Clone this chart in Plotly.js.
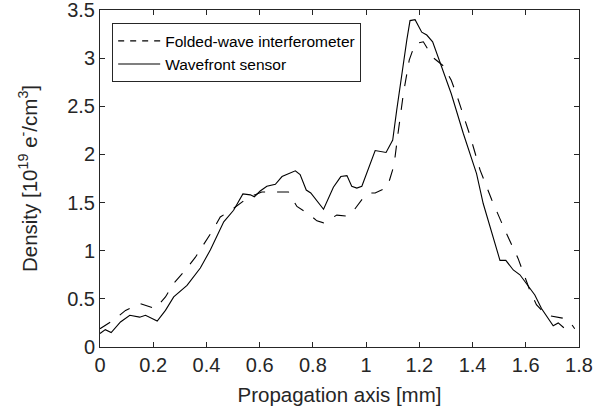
<!DOCTYPE html>
<html>
<head>
<meta charset="utf-8">
<script src="https://cdn.plot.ly/plotly-3.0.1.min.js"></script>
<style>html,body{margin:0;padding:0;background:#fff;}#chart{width:596px;height:412px;}</style>
</head>
<body>
<div id="chart"></div>
<script>
// Wavefront sensor (solid)
const wfsX = [0, 0.02, 0.042, 0.077, 0.112, 0.149, 0.171, 0.215, 0.246, 0.277, 0.327, 0.377, 0.415, 0.446, 0.465, 0.502, 0.537, 0.565, 0.58, 0.602, 0.627, 0.659, 0.684, 0.734, 0.752, 0.775, 0.792, 0.84, 0.877, 0.905, 0.928, 0.946, 0.965, 0.984, 1.009, 1.034, 1.075, 1.10, 1.115, 1.134, 1.153, 1.165, 1.184, 1.209, 1.228, 1.25, 1.29, 1.32, 1.365, 1.39, 1.415, 1.44, 1.472, 1.503, 1.525, 1.553, 1.578, 1.609, 1.634, 1.659, 1.68, 1.703, 1.722, 1.743];
const wfsY = [0.14, 0.18, 0.15, 0.26, 0.33, 0.31, 0.33, 0.27, 0.38, 0.52, 0.64, 0.82, 1.01, 1.20, 1.30, 1.42, 1.59, 1.58, 1.56, 1.62, 1.67, 1.69, 1.77, 1.83, 1.79, 1.63, 1.60, 1.43, 1.66, 1.77, 1.78, 1.67, 1.65, 1.67, 1.86, 2.04, 2.02, 2.15, 2.46, 2.84, 3.19, 3.39, 3.40, 3.27, 3.24, 3.17, 2.86, 2.63, 2.22, 2.01, 1.80, 1.49, 1.18, 0.90, 0.90, 0.80, 0.75, 0.63, 0.54, 0.40, 0.31, 0.22, 0.25, 0.20];
// Folded-wave interferometer (dashed)
const fwiX = [0, 0.052, 0.096, 0.152, 0.208, 0.246, 0.277, 0.321, 0.358, 0.392, 0.421, 0.452, 0.502, 0.546, 0.565, 0.608, 0.659, 0.708, 0.74, 0.79, 0.815, 0.84, 0.89, 0.928, 0.946, 0.984, 1.009, 1.034, 1.08, 1.105, 1.12, 1.14, 1.162, 1.184, 1.215, 1.25, 1.29, 1.32, 1.34, 1.39, 1.428, 1.472, 1.522, 1.571, 1.615, 1.64, 1.678, 1.738, 1.763, 1.784];
const fwiY = [0.19, 0.28, 0.38, 0.45, 0.40, 0.52, 0.66, 0.80, 0.93, 1.07, 1.20, 1.35, 1.44, 1.53, 1.56, 1.61, 1.61, 1.61, 1.46, 1.37, 1.31, 1.29, 1.37, 1.36, 1.39, 1.53, 1.60, 1.60, 1.66, 1.89, 2.22, 2.63, 2.98, 3.15, 3.17, 3.01, 2.92, 2.77, 2.62, 2.20, 1.84, 1.53, 1.21, 0.92, 0.59, 0.44, 0.33, 0.30, 0.27, 0.19];
const seriesNames = ['Folded-wave interferometer', 'Wavefront sensor'];
const xTickVals = [0, 0.2, 0.4, 0.6, 0.8, 1, 1.2, 1.4, 1.6, 1.8];
const xTickText = ['0', '0.2', '0.4', '0.6', '0.8', '1', '1.2', '1.4', '1.6', '1.8'];
const yTickVals = [0, 0.5, 1, 1.5, 2, 2.5, 3, 3.5];
const yTickText = ['0', '0.5', '1', '1.5', '2', '2.5', '3', '3.5'];
const xTitle = 'Propagation axis [mm]';
const yTitle = 'Density [10<sup>19</sup> e<sup>-</sup>/cm<sup>3</sup>]';

const ink = '#262626';
const traces = [
  {x: fwiX, y: fwiY, mode: 'lines', showlegend: false, hoverinfo: 'skip',
   line: {color: '#000', width: 1.1, dash: '12px,12px'}},
  {x: wfsX, y: wfsY, mode: 'lines', showlegend: false, hoverinfo: 'skip',
   line: {color: '#000', width: 1.1}},
  // legend-only entries (no data)
  {x: [null], y: [null], mode: 'lines', name: seriesNames[0],
   line: {color: '#000', width: 1.1, dash: '6px,6px'}},
  {x: [null], y: [null], mode: 'lines', name: seriesNames[1],
   line: {color: '#000', width: 1.1}}
];

const layout = {
  width: 596, height: 412,
  margin: {l: 99.5, r: 17, t: 10, b: 65, pad: 0},
  paper_bgcolor: '#fff', plot_bgcolor: '#fff',
  font: {family: '"Liberation Sans", Arial, Helvetica, sans-serif', color: ink, size: 20},
  xaxis: {
    range: [0, 1.8], tickmode: 'array', tickvals: xTickVals, ticktext: xTickText,
    showline: true, linecolor: ink, linewidth: 1, mirror: 'ticks',
    ticks: 'inside', ticklen: 5, tickcolor: ink, tickwidth: 1,
    showgrid: false, zeroline: false, automargin: false, ticklabeloverflow: 'allow',
    tickfont: {size: 20, color: ink},
    title: {text: xTitle, font: {size: 20.5, color: ink}, standoff: 12}
  },
  yaxis: {
    range: [0, 3.5], tickmode: 'array', tickvals: yTickVals, ticktext: yTickText,
    showline: true, linecolor: ink, linewidth: 1, mirror: 'ticks',
    ticks: 'inside', ticklen: 5, tickcolor: ink, tickwidth: 1,
    showgrid: false, zeroline: false, automargin: false, ticklabeloverflow: 'allow',
    tickfont: {size: 20, color: ink},
    title: {text: yTitle, font: {size: 20.5, color: ink}, standoff: 24}
  },
  legend: {
    x: 0.0254, y: 0.9605, xanchor: 'left', yanchor: 'top',
    bgcolor: '#fff', bordercolor: ink, borderwidth: 1,
    font: {size: 15.5, color: '#000'},
    tracegroupgap: 0, itemwidth: 42
  },
  showlegend: true
};

Plotly.newPlot('chart', traces, layout, {staticPlot: true, displayModeBar: false});
</script>
</body>
</html>
